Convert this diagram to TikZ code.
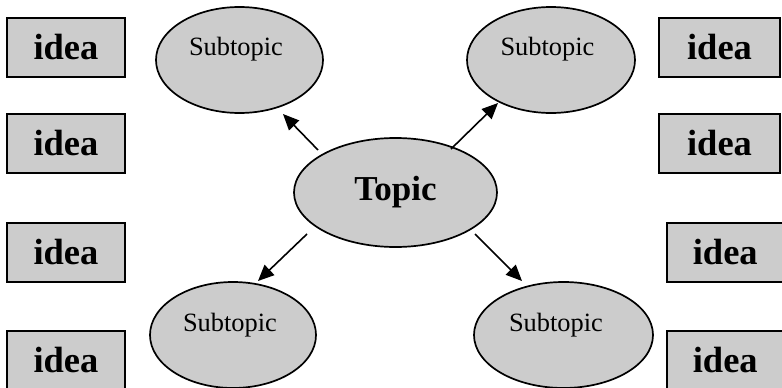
\documentclass[tikz,border=0pt]{standalone}
\usepackage{fontspec}
\setmainfont{Liberation Serif}
\usetikzlibrary{shapes.geometric,arrows.meta,calc}
\definecolor{gfill}{RGB}{204,204,204}
\begin{document}
\begin{tikzpicture}[x=1pt,y=1pt,
  sub/.style={ellipse,draw=black,fill=gfill,line width=1.7pt,minimum height=106pt,inner sep=0pt,outer sep=0pt},
  subtext/.style={font=\fontsize{26.4}{30}\selectfont},
  topicnode/.style={ellipse,draw=black,fill=gfill,line width=1.7pt,minimum width=203pt,minimum height=109pt,inner sep=0pt,outer sep=0pt,font=\fontsize{35}{40}\selectfont\bfseries},
  ideabox/.style={rectangle,draw=black,fill=gfill,line width=2pt,minimum height=59pt,inner sep=0pt,outer sep=0pt,font=\fontsize{36.5}{40}\selectfont\bfseries},
  conn/.style={line width=1.6pt,-{Triangle[length=16pt,width=14pt]}}]
\useasboundingbox (0,0) rectangle (782,-388);
\clip (0,0) rectangle (782,-388);
\fill[white] (0,0) rectangle (782,-388);

% idea boxes left
\node[ideabox,minimum width=118pt] (l1) at (66,-47.5) {idea};
\node[ideabox,minimum width=118pt] (l2) at (66,-143.5) {idea};
\node[ideabox,minimum width=118pt] (l3) at (66,-252) {idea};
\node[ideabox,minimum width=118pt] (l4) at (66,-360) {idea};
% idea boxes right
\node[ideabox,minimum width=121pt] (r1) at (719.5,-47.5) {idea};
\node[ideabox,minimum width=121pt] (r2) at (719.5,-143.5) {idea};
\node[ideabox,minimum width=116.5pt] (r3) at (725.25,-252) {idea};
\node[ideabox,minimum width=116.5pt] (r4) at (725.25,-360) {idea};

% topic
\node[topicnode] (topic) at (395.5,-192.5) {Topic};

% subtopics
\node[sub,minimum width=167pt,label={[subtext,xshift=-3.5pt,yshift=11pt]center:Subtopic}] (stl) at (239.5,-60) {};
\node[sub,minimum width=168pt,label={[subtext,xshift=-3.5pt,yshift=11pt]center:Subtopic}] (str) at (551,-60) {};
\node[sub,minimum width=166pt,label={[subtext,xshift=-3pt,yshift=9.5pt]center:Subtopic}] (sbl) at (233,-335) {};
\node[sub,minimum width=179pt,label={[subtext,xshift=-7.5pt,yshift=10pt]center:Subtopic}] (sbr) at (563.5,-335) {};

% connectors
\draw[conn] ($(topic.center)+(-77.5,42.5)$) -- ($(stl.center)+(43.5,-54)$);
\draw[conn] ($(topic.center)+(55.5,43.5)$) -- ($(str.center)+(-53,-43)$);
\draw[conn] ($(topic.center)+(-88.5,-41.5)$) -- ($(sbl.center)+(25,54)$);
\draw[conn] ($(topic.center)+(79.5,-41.5)$) -- ($(sbr.center)+(-41.5,54)$);
\end{tikzpicture}
\end{document}
